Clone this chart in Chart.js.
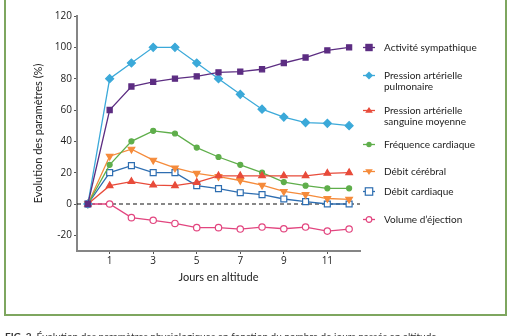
<!DOCTYPE html>
<html><head><meta charset="utf-8">
<script src="https://cdn.jsdelivr.net/npm/chart.js@4.4.1/dist/chart.umd.min.js"></script>
<style>
html,body{margin:0;padding:0;background:#fff;overflow:hidden;width:511px;height:336px;}
#frame{position:absolute;left:4px;top:-10px;width:499px;height:322px;border:2px solid #7ea65f;}
#c{position:absolute;left:0;top:0;}
.lg{position:absolute;left:362px;font-family:Lato,"Open Sans",sans-serif;font-size:10px;line-height:10.5px;color:#222;}
.lg svg{position:absolute;left:0;top:0;}
.lg span{position:absolute;left:22px;top:0;white-space:nowrap;}
#cap{position:absolute;left:5px;top:330px;font-family:Lato,"Open Sans",sans-serif;font-size:10px;color:#333;white-space:nowrap;}
</style></head>
<body>
<div id="frame"></div>
<canvas id="c" width="511" height="336"></canvas>
<div id="legend"></div>
<div id="cap"><b>FIG. 2</b>&nbsp; Évolution des paramètres physiologiques en fonction du nombre de jours passés en altitude</div>
<script>
const days = [0,1,2,3,4,5,6,7,8,9,10,11,12];
const xTickLabels = [1,3,5,7,9,11];
const yTickLabels = [-20,0,20,40,60,80,100,120];
const seriesNames = ["Activité sympathique","Pression artérielle\npulmonaire","Pression artérielle\nsanguine moyenne","Fréquence cardiaque","Débit cérébral","Débit cardiaque","Volume d’éjection"];
const sympathique = [0,60,75,78,80,81.5,84,84.5,86,90,93.5,98,100];
const pulmonaire  = [0,80,90,100,100,90,80,70,60.5,55.5,52,51.5,50];
const moyenne     = [0,11.7,14.3,12.1,11.7,13.8,18,18,18,18,18,19.6,20];
const frequence   = [0,25,40,46.7,45,36,30,25,20,14,11.7,10,10];
const cerebral    = [0,30.5,35,28,23,19.6,17.5,15,12,8,6,3.5,3];
const cardiaque   = [0,20,24.5,20,20,11.7,9.8,7.2,6,3.2,1.5,0,0];
const ejection    = [0,0,-8.7,-10.4,-12.4,-15.1,-15.1,-16,-14.7,-15.8,-14.7,-17.3,-16];
const baseline = 0;

const styles = [
  {color:'#5c2d82', point:'rect', r:3.6, fill:'#5c2d82', rot:0},
  {color:'#3ba9d9', point:'rectRot', r:4, fill:'#3ba9d9', rot:0},
  {color:'#e84b3a', point:'triangle', r:3.8, fill:'#e84b3a', rot:0},
  {color:'#5fae4b', point:'circle', r:2.5, fill:'#5fae4b', rot:0},
  {color:'#f58b3b', point:'triangle', r:3.8, fill:'#f58b3b', rot:180},
  {color:'#2e6eb1', point:'rect', r:4.2, fill:'#ffffff', rot:0},
  {color:'#e2457f', point:'circle', r:3.2, fill:'#ffffff', rot:0}
];
const seriesData = [sympathique,pulmonaire,moyenne,frequence,cerebral,cardiaque,ejection];

const datasets = seriesData.map((arr,i)=>({
  label: seriesNames[i].replace('\n',' '),
  data: days.map((d,j)=>({x:d,y:arr[j]})),
  borderColor: styles[i].color,
  backgroundColor: styles[i].fill,
  pointStyle: styles[i].point,
  pointRadius: styles[i].r,
  pointRotation: styles[i].rot,
  pointBorderColor: styles[i].color,
  pointBackgroundColor: styles[i].fill,
  pointBorderWidth: 1.2,
  borderWidth: 1.3,
  tension: 0
}));
datasets.push({
  label:'zero',
  data:[{x:-0.5,y:baseline},{x:12.5,y:baseline}],
  borderColor:'#111', borderWidth:1.1, borderDash:[4,3], pointRadius:0
});

const font = {family:'"Open Sans", sans-serif', size:10};
new Chart(document.getElementById('c'), {
  type:'line',
  data:{datasets},
  options:{
    responsive:false, animation:false, devicePixelRatio:1,
    layout:{padding:{left:28,right:151,top:16,bottom:48}},
    plugins:{legend:{display:false}, tooltip:{enabled:false}},
    scales:{
      x:{type:'linear', min:-0.5, max:12.5,
        afterBuildTicks:s=>{s.ticks = xTickLabels.map(v=>({value:v}));},
        afterFit:s=>{s.height=37;},
        ticks:{font, color:'#222', padding:1, maxRotation:0, callback:v=>v},
        grid:{drawOnChartArea:false, drawTicks:true, tickLength:3, color:'#555', lineWidth:1},
        border:{display:true, color:'#858585', width:2},
        title:{display:true, text:'Jours en altitude', font:{family:'Lato, sans-serif', size:11}, color:'#222', padding:{top:4,bottom:4}}
      },
      y:{type:'linear', min:-30, max:120,
        afterBuildTicks:s=>{s.ticks = yTickLabels.map(v=>({value:v}));},
        afterFit:s=>{s.width=49;},
        ticks:{font, color:'#222', padding:2, callback:v=>v},
        grid:{drawOnChartArea:false, drawTicks:true, tickLength:3, color:'#555', lineWidth:1},
        border:{display:true, color:'#858585', width:2},
        title:{display:true, text:'Evolution des paramètres (%)', font:{family:'Lato, sans-serif', size:11}, color:'#222', padding:{top:4,bottom:4}}
      }
    }
  }
});

// HTML legend
const legendTops = [42, 70, 105, 139, 166, 186, 214];
const lg = document.getElementById('legend');
seriesNames.forEach((name,i)=>{
  const s = styles[i];
  const d = document.createElement('div');
  d.className='lg'; d.style.top = legendTops[i]+'px';
  let mk='';
  const cx=7, cy=5.5;
  if(s.point==='rect'){const r=s.r-0.5; mk=`<rect x="${cx-r}" y="${cy-r}" width="${2*r}" height="${2*r}" fill="${s.fill}" stroke="${s.color}" stroke-width="1.2"/>`;}
  else if(s.point==='rectRot'){const r=s.r; mk=`<polygon points="${cx},${cy-r} ${cx+r},${cy} ${cx},${cy+r} ${cx-r},${cy}" fill="${s.fill}"/>`;}
  else if(s.point==='circle'){mk=`<circle cx="${cx}" cy="${cy}" r="${s.r-0.4}" fill="${s.fill}" stroke="${s.color}" stroke-width="1.2"/>`;}
  else if(s.point==='triangle'){const r=s.r; mk = s.rot? `<polygon points="${cx-r},${cy-r*0.6} ${cx+r},${cy-r*0.6} ${cx},${cy+r*0.9}" fill="${s.fill}"/>` : `<polygon points="${cx-r},${cy+r*0.6} ${cx+r},${cy+r*0.6} ${cx},${cy-r*0.9}" fill="${s.fill}"/>`;}
  d.innerHTML = `<svg width="14" height="11"><line x1="1" y1="${cy}" x2="13" y2="${cy}" stroke="${s.color}" stroke-width="1.3"/>${mk}</svg><span>${name.replace('\n','<br>')}</span>`;
  lg.appendChild(d);
});
</script>
</body></html>
